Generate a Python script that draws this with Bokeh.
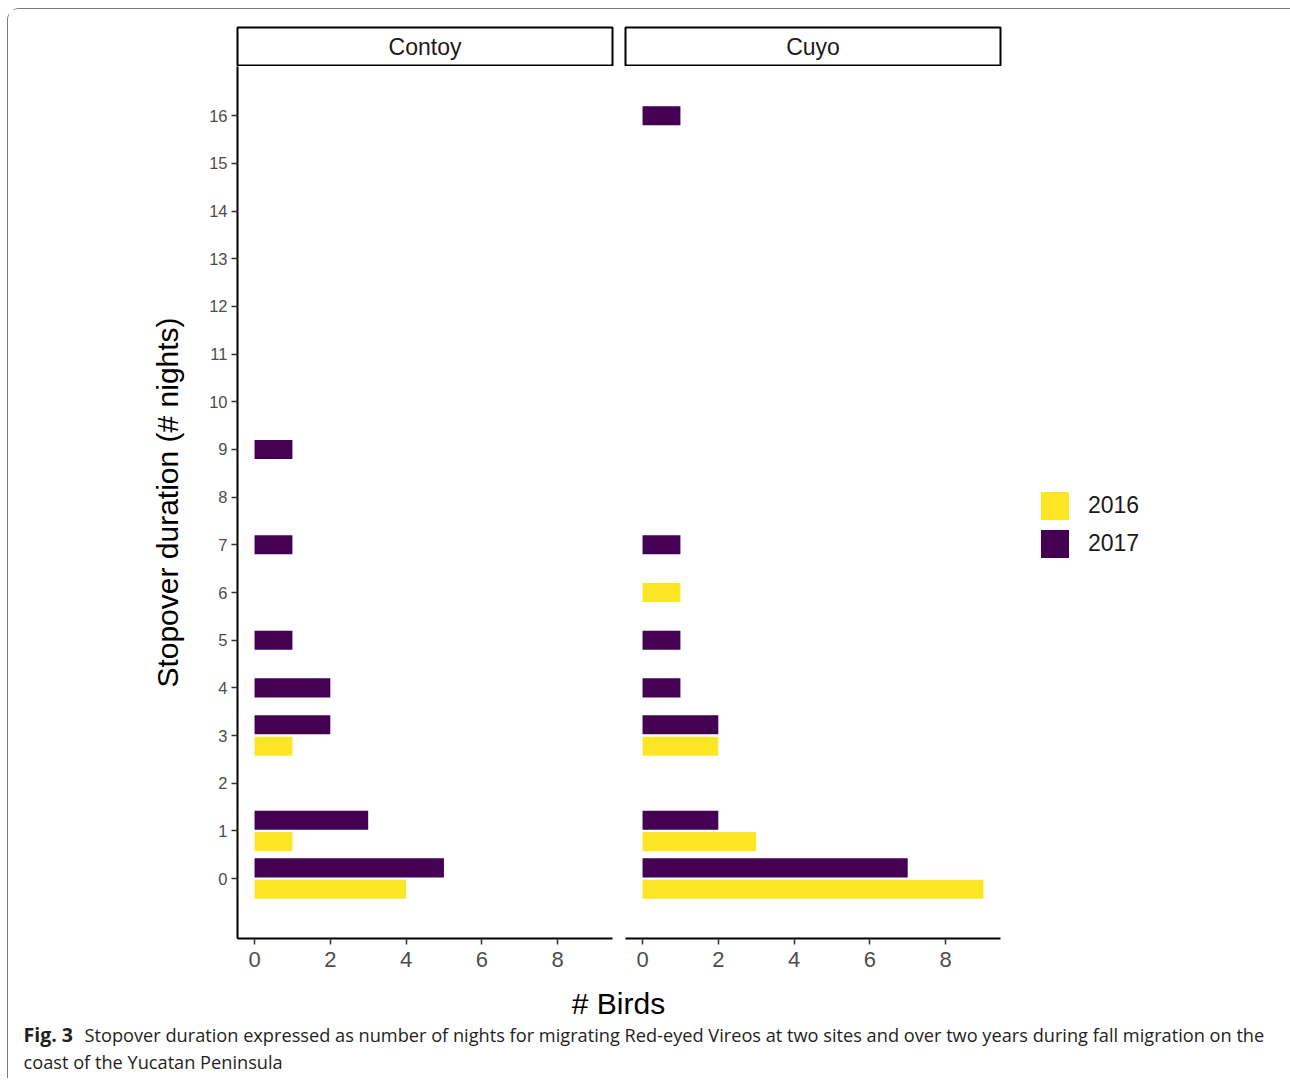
import numpy as np
from bokeh.plotting import figure
from bokeh.models import Range1d, FixedTicker, ColumnDataSource, Legend, LegendItem
from bokeh.layouts import column, row
from bokeh.embed import file_html
from bokeh.resources import INLINE
from bokeh.core.properties import value

# ---------------- data ----------------
sites = ["Contoy", "Cuyo"]
years = ["2016", "2017"]
year_colors = ["#FDE725", "#440154"]

contoy_2016_nights = [0, 1, 3]
contoy_2016_birds = [4, 1, 1]
contoy_2017_nights = [0, 1, 3, 4, 5, 7, 9]
contoy_2017_birds = [5, 3, 2, 2, 1, 1, 1]

cuyo_2016_nights = [0, 1, 3, 6]
cuyo_2016_birds = [9, 3, 2, 1]
cuyo_2017_nights = [0, 1, 3, 4, 5, 7, 16]
cuyo_2017_birds = [7, 2, 2, 1, 1, 1, 1]

y_ticks = list(range(0, 17))
x_ticks = [0, 2, 4, 6, 8]

x_title = "# Birds"
y_title = "Stopover duration (# nights)"
caption_bold = "Fig. 3"
caption_line1 = ("Stopover duration expressed as number of nights for migrating Red-eyed Vireos "
                 "at two sites and over two years during fall migration on the")
caption_line2 = "coast of the Yucatan Peninsula"

# ---------------- geometry / style ----------------
BAR_H = 0.4
DODGE = 0.225
FONT = "Liberation Sans"
CAP_FONT = "Open Sans"
PANEL_W = 375
PANEL_H = 872
LEFT_B = 229
GAP_A = 7
GAP_B = 6
RIGHT_B = 289


def dodge_positions(n_a, n_b):
    both = set(n_a) & set(n_b)
    ya = [n - DODGE if n in both else n for n in n_a]
    yb = [n + DODGE if n in both else n for n in n_b]
    return ya, yb


panels = [
    (contoy_2016_nights, contoy_2016_birds, contoy_2017_nights, contoy_2017_birds),
    (cuyo_2016_nights, cuyo_2016_birds, cuyo_2017_nights, cuyo_2017_birds),
]

all_y = []
all_x = [0]
for n16, b16, n17, b17 in panels:
    y16, y17 = dodge_positions(n16, n17)
    all_y += [v - BAR_H / 2 for v in y16 + y17] + [v + BAR_H / 2 for v in y16 + y17]
    all_x += b16 + b17
y_span = max(all_y) - min(all_y)
y_lo, y_hi = min(all_y) - 0.05 * y_span, max(all_y) + 0.05 * y_span
x_span = max(all_x) - min(all_x)
x_lo, x_hi = min(all_x) - 0.05 * x_span, max(all_x) + 0.05 * x_span


def style_axis(ax, size, standoff):
    ax.axis_line_color = "black"
    ax.axis_line_width = 2
    ax.major_tick_line_color = "#333333"
    ax.major_tick_line_width = 1.5
    ax.major_tick_out = 6
    ax.major_tick_in = 0
    ax.minor_tick_line_color = None
    ax.major_label_text_font = FONT
    ax.major_label_text_font_size = size
    ax.major_label_text_color = "#4D4D4D"
    ax.major_label_standoff = standoff


def make_strip(label, first):
    s = figure(frame_width=PANEL_W, frame_height=38, x_range=Range1d(0, 1), y_range=Range1d(0, 1),
               output_backend="svg", toolbar_location=None,
               x_axis_location=None, y_axis_location=None,
               min_border_left=LEFT_B if first else GAP_B, min_border_right=GAP_A if first else RIGHT_B,
               min_border_top=18, min_border_bottom=1,
               outline_line_color="black", outline_line_width=2)
    s.grid.visible = False
    s.text(x=[0.5], y=[0.5], text=[label], text_align="center", text_baseline="middle",
           text_font=value(FONT), text_font_size="23px", text_color="#1A1A1A")
    return s


def make_panel(idx, first):
    n16, b16, n17, b17 = panels[idx]
    y16, y17 = dodge_positions(n16, n17)
    p = figure(frame_width=PANEL_W, frame_height=PANEL_H,
               x_range=Range1d(x_lo, x_hi), y_range=Range1d(y_lo, y_hi),
               output_backend="svg", toolbar_location=None,
               y_axis_location="left" if first else None,
               min_border_left=LEFT_B if first else GAP_B, min_border_right=GAP_A if first else RIGHT_B,
               min_border_top=0, min_border_bottom=47, outline_line_color=None)
    p.grid.visible = False
    r16 = p.hbar(y="y", left=0, right="birds", height=BAR_H,
                 source=ColumnDataSource(dict(y=y16, birds=b16)),
                 fill_color=year_colors[0], line_color=None)
    r17 = p.hbar(y="y", left=0, right="birds", height=BAR_H,
                 source=ColumnDataSource(dict(y=y17, birds=b17)),
                 fill_color=year_colors[1], line_color=None)
    xa = p.xaxis[0]
    xa.ticker = FixedTicker(ticks=x_ticks)
    style_axis(xa, "22px", 7)
    if first:
        ya = p.yaxis[0]
        ya.ticker = FixedTicker(ticks=y_ticks)
        style_axis(ya, "16.5px", 4)
        ya.axis_label = y_title
        ya.axis_label_text_font = FONT
        ya.axis_label_text_font_size = "30px"
        ya.axis_label_text_font_style = "normal"
        ya.axis_label_text_color = "black"
        ya.axis_label_standoff = 22
    return p, r16, r17


stripA = make_strip(sites[0], True)
stripB = make_strip(sites[1], False)
pA, _, _ = make_panel(0, True)
pB, rb16, rb17 = make_panel(1, False)

legend = Legend(items=[LegendItem(label=years[0], renderers=[rb16]),
                       LegendItem(label=years[1], renderers=[rb17])],
                location=(37, 377), glyph_width=35, glyph_height=35, spacing=3,
                label_standoff=16, padding=0, margin=40,
                border_line_color=None, background_fill_alpha=0,
                label_text_font=FONT, label_text_font_size="23px", label_text_color="#1A1A1A")
pB.add_layout(legend, "right")

# caption / shared x title
CAP_W = LEFT_B + PANEL_W + GAP_A + GAP_B + PANEL_W + RIGHT_B
CAP_H = 93
cap = figure(frame_width=CAP_W, frame_height=CAP_H, x_range=Range1d(0, CAP_W), y_range=Range1d(CAP_H, 0),
             output_backend="svg", toolbar_location=None,
             x_axis_location=None, y_axis_location=None,
             min_border_left=0, min_border_right=0, min_border_top=0, min_border_bottom=0,
             outline_line_color=None)
cap.grid.visible = False
cap.text(x=[610], y=[18], text=[x_title], text_align="center", text_baseline="middle",
         text_font=value(FONT), text_font_size="30px", text_color="black")
cap.text(x=[15], y=[49], text=[caption_bold], text_align="left", text_baseline="middle",
         text_font=value(CAP_FONT), text_font_size="19.5px", text_font_style="bold", text_color="#231F20")
cap.text(x=[76], y=[49], text=[caption_line1], text_align="left", text_baseline="middle",
         text_font=value(CAP_FONT), text_font_size="18.2px", text_color="#231F20")
cap.text(x=[15], y=[76], text=[caption_line2], text_align="left", text_baseline="middle",
         text_font=value(CAP_FONT), text_font_size="18.2px", text_color="#231F20")

page = column(row(column(stripA, pA), column(stripB, pB)), cap,
              margin=(8, 0, 0, 7),
              styles={"border-top": "1px solid #7a7a7a", "border-left": "1px solid #7a7a7a",
                      "border-right": "1px solid #7a7a7a", "border-radius": "12px 12px 0 0"})

open("out.html", "w").write(file_html(page, INLINE))
